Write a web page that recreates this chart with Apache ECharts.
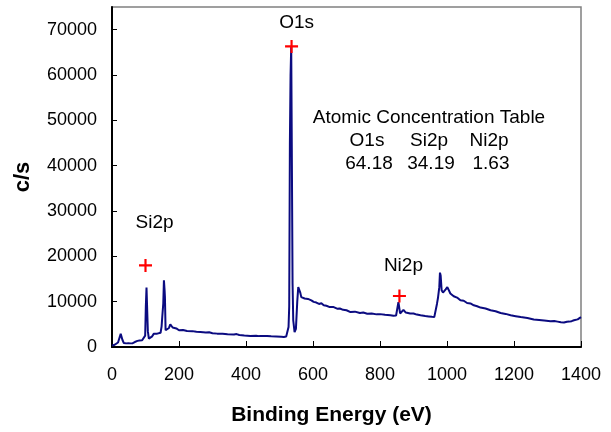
<!DOCTYPE html>
<html>
<head>
<meta charset="utf-8">
<script src="https://cdn.jsdelivr.net/npm/echarts@6/dist/echarts.min.js"></script>
<style>
  html, body { margin: 0; padding: 0; background: #fff; }
  #chart { width: 611px; height: 432px; }
</style>
</head>
<body>
<div id="chart"></div>
<script>
  // survey spectrum
  const bindingEnergy = [
    0, 4, 8, 12, 18, 22, 26, 28, 31, 35, 42, 49, 52, 55, 62, 68, 70, 76, 82, 90,
    95, 99, 101, 103, 105, 107, 110, 115, 120, 125, 130, 135, 140, 145, 148, 150, 153, 155, 157, 158,
    160, 165, 170, 174, 177, 181, 185, 192, 200, 212, 224, 240, 252, 264, 280, 290, 300, 314, 330, 345,
    364, 372, 380, 395, 413, 430, 440, 450, 463, 475, 490, 505, 513, 520, 524, 527, 529, 531, 533, 535,
    537, 539, 541, 545, 549, 553, 556, 559, 562, 565, 570, 575, 580, 585, 590, 595, 602, 610, 618, 625,
    632, 640, 650, 660, 672, 680, 690, 700, 712, 725, 740, 750, 762, 775, 790, 800, 815, 831, 840, 848,
    852, 855, 857, 860, 865, 870, 873, 877, 882, 890, 900, 910, 921, 935, 945, 955, 962, 966, 970, 973,
    977, 979, 981, 984, 988, 992, 996, 1001, 1005, 1010, 1015, 1020, 1030, 1040, 1050, 1060, 1070, 1080, 1090, 1100,
    1115, 1130, 1145, 1160, 1175, 1190, 1205, 1220, 1240, 1259, 1275, 1290, 1309, 1320, 1330, 1340, 1349, 1358, 1365, 1372,
    1379, 1390, 1400
  ];
  const counts = [
    300, 350, 500, 900, 1000, 1400, 2900, 3000, 1600, 900, 800, 850, 1250, 800, 850, 1100, 1500, 1350, 1450, 1500,
    1600, 2500, 9000, 13100, 12800, 3500, 1850, 2200, 2350, 2950, 2850, 2950, 3000, 3150, 4500, 6600, 9500, 14700, 12500, 11000,
    3700, 4000, 4200, 5000, 4800, 4300, 4050, 4100, 3700, 3750, 3550, 3500, 3350, 3300, 3200, 3250, 3050, 2950, 2900, 2800,
    2750, 2850, 2650, 2550, 2450, 2500, 2400, 2450, 2450, 2350, 2300, 2250, 2200, 2300, 2500, 4400, 9000, 45000, 60000, 66200,
    40000, 14000, 5900, 3300, 4000, 10000, 13200, 13600, 12000, 11000, 10900, 10700, 10900, 10600, 10200, 10300, 9950, 9800, 9500, 9650,
    9200, 9100, 8800, 8850, 8450, 8500, 8200, 8100, 7700, 7800, 7500, 7600, 7350, 7400, 7200, 7250, 7100, 7000, 6900, 6950,
    7300, 9900, 9600, 7400, 7300, 8200, 8500, 7600, 7700, 7400, 7400, 7150, 7000, 6850, 6750, 6650, 6600, 6900, 9500, 10800,
    13200, 16400, 15800, 12500, 12000, 11800, 12700, 13200, 12600, 11800, 11700, 11200, 10900, 10300, 10200, 9700, 9600, 9200, 9000, 8700,
    8500, 8100, 7900, 7500, 7300, 7000, 6800, 6600, 6400, 6050, 5950, 5850, 5700, 5750, 5600, 5450, 5400, 5550, 5600, 5700,
    5900, 6100, 6600
  ];

  // peak markers (red crosses)
  const peakNames = ["Si2p", "O1s", "Ni2p"];
  const peakEnergy = [100, 536, 858];
  const peakCounts = [18000, 66300, 11250];

  // atomic concentration table
  const concElements = ["O1s", "Si2p", "Ni2p"];
  const concValues = ["64.18", "34.19", "1.63"];

  const xTicks = [0, 200, 400, 600, 800, 1000, 1200, 1400];
  const yTicks = [0, 10000, 20000, 30000, 40000, 50000, 60000, 70000];

  const font = "Liberation Sans, Arial, sans-serif";
  const labelOffsets = { Si2p: [9, -43], O1s: [5, -24], Ni2p: [4, -30] };
  const tableCols = [367, 429, 489];

  const chart = echarts.init(document.getElementById("chart"), null, { renderer: "canvas" });

  const cell = (text, x, y) => ({
    type: "text", x: x, y: y,
    style: { text: text, fontFamily: font, fontSize: 19, fill: "#000", align: "center", verticalAlign: "middle" }
  });

  const option = {
    animation: false,
    backgroundColor: "#fff",
    grid: {
      left: 112,
      right: 30,
      top: 7,
      bottom: 85,
      show: true,
      borderColor: "#808080",
      borderWidth: 1.5
    },
    xAxis: {
      type: "value",
      min: 0,
      max: 1400,
      interval: 200,
      name: "Binding Energy (eV)",
      nameLocation: "middle",
      nameGap: 58,
      nameTextStyle: {
        fontFamily: font, fontSize: 21, fontWeight: "bold", color: "#000",
        padding: [0, 30, 0, 0]
      },
      axisLine: { show: true, lineStyle: { color: "#000", width: 2 } },
      axisTick: { show: true, inside: true, length: 6, customValues: xTicks, lineStyle: { color: "#000", width: 1 } },
      axisLabel: {
        fontFamily: font, fontSize: 18, color: "#000", margin: 19, customValues: xTicks,
        formatter: (v) => String(v)
      },
      splitLine: { show: false }
    },
    yAxis: {
      type: "value",
      min: 0,
      max: 75000,
      interval: 10000,
      name: "c/s",
      nameLocation: "middle",
      nameGap: 78,
      nameRotate: 90,
      nameTextStyle: { fontFamily: font, fontSize: 22, fontWeight: "bold", color: "#000" },
      axisLine: { show: true, lineStyle: { color: "#000", width: 2 } },
      axisTick: { show: true, inside: true, length: 5, customValues: yTicks, lineStyle: { color: "#000", width: 1 } },
      axisLabel: {
        fontFamily: font, fontSize: 18, color: "#000", margin: 15, customValues: yTicks,
        formatter: (v) => String(v)
      },
      splitLine: { show: false }
    },
    graphic: [cell("Atomic Concentration Table", 429, 118)]
      .concat(concElements.map((name, i) => cell(name, tableCols[i], 141)))
      .concat(concValues.map((val, i) => cell(val, tableCols[i] + 2, 164))),
    series: [
      {
        name: "spectrum",
        type: "line",
        data: bindingEnergy.map((e, i) => [e, counts[i]]),
        showSymbol: false,
        symbol: "none",
        lineStyle: { color: "#0b0b80", width: 2 },
        z: 3
      },
      {
        name: "peaks",
        type: "scatter",
        symbol: "path://M5,0 H7 V5 H12 V7 H7 V12 H5 V7 H0 V5 H5 Z",
        symbolSize: 13,
        itemStyle: { color: "#ff0000", opacity: 1 },
        data: peakNames.map((name, i) => ({
          name: name,
          value: [peakEnergy[i], peakCounts[i]],
          label: {
            show: true,
            position: "inside",
            offset: labelOffsets[name],
            formatter: name,
            fontFamily: font,
            fontSize: 19,
            color: "#000",
            opacity: 1,
            textBorderWidth: 0
          }
        })),
        z: 4
      }
    ]
  };

  chart.setOption(option);
</script>
</body>
</html>
